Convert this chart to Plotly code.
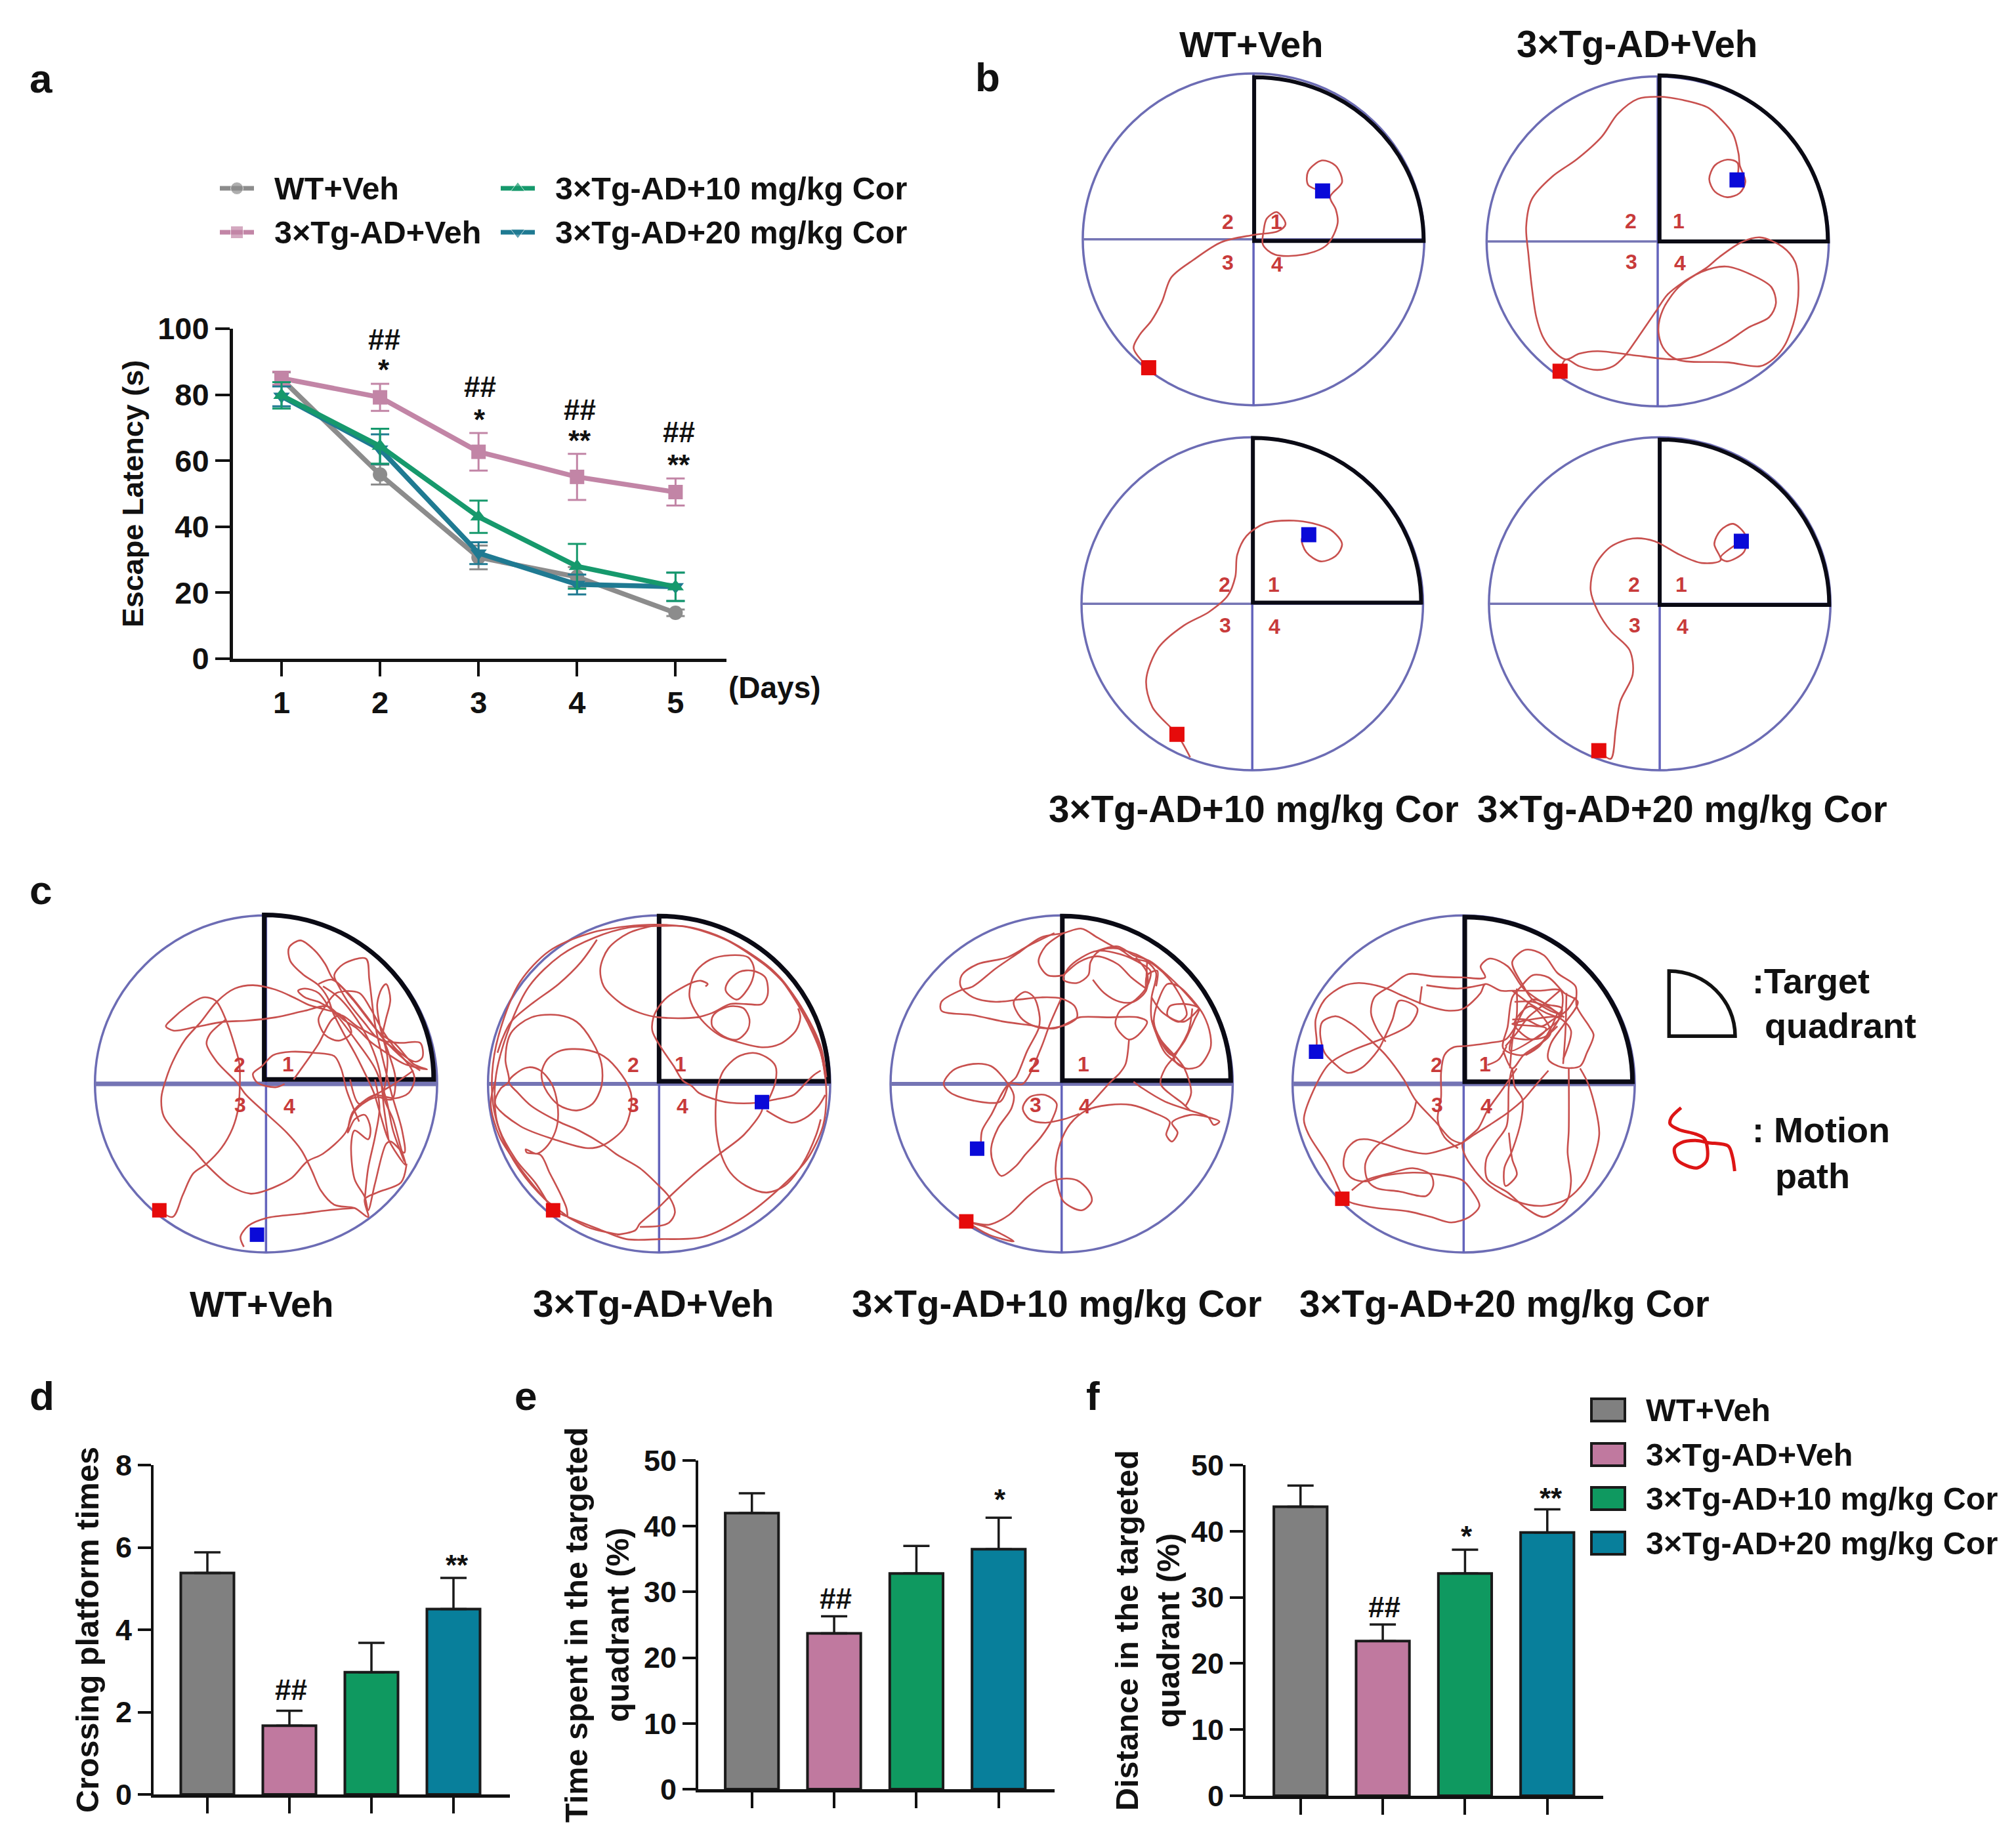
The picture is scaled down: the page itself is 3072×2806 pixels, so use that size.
import plotly.graph_objects as go

W, H = 3072, 2806
SANS = '"Liberation Sans", Arial, sans-serif'

# ---------- data: panel a ----------
DAYS = [1, 2, 3, 4, 5]
WT_VEH = [84.8, 55.8, 30.7, 24.8, 13.9]
WT_VEH_ERR = [2.0, 3.0, 3.6, 3.0, 1.0]
TG_VEH = [85.0, 79.2, 62.7, 55.1, 50.5]
TG_VEH_ERR = [2.0, 4.1, 5.7, 7.0, 4.1]
TG_10 = [79.8, 64.4, 43.0, 28.0, 21.8]
TG_10_ERR = [4.0, 5.3, 4.9, 6.8, 4.3]
TG_20 = [79.5, 63.5, 32.0, 22.5, 21.8]
TG_20_ERR = [3.0, 4.5, 3.3, 3.0, 4.3]

# ---------- data: panels d, e, f ----------
GROUPS = ["WT+Veh", "3×Tg-AD+Veh", "3×Tg-AD+10 mg/kg Cor", "3×Tg-AD+20 mg/kg Cor"]
CROSSING = [5.38, 1.67, 2.97, 4.5]
CROSSING_ERR = [0.5, 0.36, 0.71, 0.76]
TIME_TQ = [42.0, 23.7, 32.8, 36.5]
TIME_TQ_ERR = [3.0, 2.6, 4.2, 4.8]
DIST_TQ = [43.7, 23.4, 33.6, 39.8]
DIST_TQ_ERR = [3.2, 2.5, 3.6, 3.5]

B1_PATH = [(314,676),(290,640),(300,615),(318,590),(335,555),(350,510),(385,478),(430,445),(480,432),(520,425),(532,412),(518,390),(502,402),(497,425),(496,450),(515,468),(560,468),(598,450),(615,410),(612,385),(603,362),(622,335),(612,305),(590,295),(568,315),(568,340),(591,351)]
B3_PATH = [(380,1392),(359,1350),(320,1300),(310,1250),(330,1190),(370,1150),(410,1125),(440,1095),(452,1060),(455,1020),(470,985),(500,962),(545,957),(575,962),(605,975),(622,1000),(612,1022),(588,1032),(565,1015),(558,990),(569,983)]
B4_PATH = [(1031,1380),(1050,1395),(1058,1340),(1065,1290),(1085,1240),(1080,1195),(1050,1160),(1030,1125),(1018,1085),(1025,1040),(1050,1005),(1085,990),(1120,995),(1160,1020),(1195,1035),(1225,1030),(1215,1000),(1225,975),(1245,963),(1265,985),(1262,1015),(1235,1032),(1225,1025),(1258,995)]
B2_PATH = [(355,1165),(380,1118),(440,1145),(520,1160),(590,1145),(640,1105),(700,1030),(780,925),(830,860),(900,810),(1000,755),(1060,710),(1160,650),(1240,632),(1340,670),(1395,730),(1410,830),(1395,950),(1350,1060),(1300,1115),(1240,1145),(1100,1130),(870,1118),(810,1070),(790,1000),(810,920),(880,830),(980,770),(1090,748),(1200,780),(1290,830),(1310,895),(1280,950),(1190,990),(1090,1050),(960,1105),(860,1118),(670,1100),(520,1085),(440,1095),(380,1118),(320,1080),(280,1030),(250,950),(230,830),(215,700),(205,590),(230,480),(320,390),(430,320),(540,230),(610,140),(700,80),(800,72),(900,85),(1010,115),(1065,160),(1120,220),(1145,300),(1150,345),(1175,410),(1150,455),(1095,472),(1040,450),(1015,400),(1040,345),(1095,322),(1140,335),(1138,403)]

C1_PATH = [(316,1360),(375,1390),(420,1290),(465,1195),(525,1150),(590,1080),(640,990),(665,900),(672,800),(670,700),(650,620),(610,500),(565,415),(510,400),(440,440),(370,500),(345,530),(380,550),(470,535),(600,510),(700,505),(830,490),(960,460),(1060,440),(1130,500),(1190,540),(1250,600),(1320,650),(1400,700),(1500,725),(1440,700),(1360,610),(1290,560),(1180,420),(1120,350),(1080,310),(1050,250),(1000,185),(940,143),(890,175),(895,235),(950,295),(1020,345),(1060,400),(1085,470),(1130,560),(1180,650),(1215,720),(1265,830),(1300,950),(1325,1030),(1370,1110),(1405,1155),(1385,1080),(1350,950),(1310,850),(1320,760),(1325,670),(1290,520),(1280,430),(1300,360),(1320,340),(1338,410),(1318,500),(1305,570),(1330,650),(1360,760),(1345,860),(1280,850),(1230,870),(1175,920),(1140,1010),(1040,1105),(970,1140),(900,1215),(790,1270),(720,1285),(630,1250),(530,1160),(470,1090),(390,1010),(335,935),(325,850),(345,770),(375,690),(430,590),(500,510),(570,420),(650,360),(730,345),(830,365),(910,400),(980,435),(1050,455),(1120,480),(1165,560),(1110,595),(1050,570),(1020,500),(1050,440),(1100,380),(1200,380),(1250,450),(1310,560),(1370,640),(1450,690),(1480,670),(1470,605),(1380,605),(1290,590),(1220,510),(1150,420),(1110,350),(1090,300),(1130,250),(1230,225),(1245,320),(1270,520),(1310,700),(1345,840),(1390,1000),(1400,1100),(1340,1050),(1320,1060),(1270,1240),(1240,1360),(1225,1300),(1180,1220),(1165,1060),(1180,1000),(1240,1040),(1250,990),(1225,930),(1180,950),(1150,1010),(1170,920),(1230,860),(1270,840),(1360,855),(1420,830),(1445,770),(1430,720),(1340,620),(1190,530),(1120,480),(1080,500),(1020,610),(980,670),(910,770),None,
 (870,790),(830,805),(750,785),(730,745),(770,710),(820,660),(900,645),(1000,650),(1090,665),(1120,720),(1145,820),(1175,900),(1200,960),None,
 (610,500),(540,565),(525,610),(570,690),(660,785),(700,840),(790,925),(880,1010),(945,1090),(990,1180),(1030,1270),(1090,1335),(1180,1350),(1240,1390),(1225,1310),(1280,1280),(1385,1235),(1410,1150),None,
 (1180,1350),(1060,1360),(950,1375),(790,1395),(710,1430),(675,1480),(690,1525),None,
 (1020,340),(1080,320),(1150,380),(1230,480),(1310,590),(1400,680),(1470,730),None,
 (1060,440),(1100,480),(1190,600),(1270,720),(1320,860),(1350,1000),(1400,1140),None,
 (1040,350),(1110,400),(1190,500),(1250,610),(1290,730),(1310,900),(1330,1040),None,
 (930,370),(960,400),(1020,420),(1060,440),(1020,380),(960,360),(930,370),None,
 (1270,770),(1290,900),(1270,1030),(1240,1170),(1225,1310),None,
 (1160,770),(1200,880),(1270,840),(1340,800),(1440,730)]

C2_PATH = [(316,1360),(380,1390),(280,1310),(170,1180),(90,1030),(50,880),(50,700),(90,520),(170,330),(300,190),(480,110),(640,80),(785,72),(920,85),(1080,140),(1200,215),(1320,310),(1410,440),(1480,580),(1515,720),(1525,850),(1510,980),(1440,1130),(1330,1250),(1160,1390),(980,1480),(790,1490),(640,1490),(530,1450),(380,1390),None,
 (300,1340),(240,1240),(150,1130),(70,970),(60,780),(110,570),(210,350),(350,210),(500,130),(650,85),(790,78),(900,80),(1040,120),(1170,190),(1300,290),(1420,470),(1500,650),(1520,760),None,
 (510,140),(440,240),(340,340),(220,430),(130,510),(90,590),(70,650),None,
 (785,72),(650,110),(560,180),(525,270),(540,350),(620,430),(700,470),(785,490),(950,490),(1020,470),(1100,430),(1170,430),(1240,430),(1265,390),(1255,310),(1200,280),(1140,285),(1090,330),(1080,370),(1130,410),(1190,340),(1205,270),(1180,220),(1100,210),(1010,230),(950,280),(925,340),(920,400),(950,470),(1000,530),(1060,575),(1130,600),(1240,625),(1320,610),(1390,550),(1410,490),(1400,450),None,
 (1020,490),(1020,530),(1070,575),(1130,590),(1175,550),(1185,500),(1160,450),(1100,440),(1040,465),(1020,490),None,
 (990,350),(1000,340),(970,325),(940,330),(880,360),(820,400),(785,440),(760,490),(755,550),(790,620),(850,710),(890,775),(930,800),(960,830),(1050,865),(1100,875),(1220,875),(1300,860),(1380,840),(1430,790),(1470,750),(1500,730),None,
 (1270,860),(1300,780),(1300,710),(1260,670),(1200,650),(1130,670),(1070,730),(1045,800),(1035,900),(1040,1020),(1060,1110),(1100,1190),(1170,1250),(1260,1280),(1340,1250),(1420,1150),(1480,1020),(1500,950),None,
 (1240,872),(1240,910),(1160,1020),(1060,1100),(960,1180),(840,1290),(780,1350),(700,1420),(680,1450),(600,1470),None,
 (1260,910),(1370,965),(1430,945),(1490,890),(1520,840),None,
 (700,1435),(790,1430),(830,1415),(855,1370),(830,1300),(785,1250),(700,1170),(600,1110),(540,1065),(430,1000),(340,960),(220,890),(160,830),(120,780),(170,730),(210,715),(260,730),(310,790),(335,880),(335,970),(310,1040),(270,1090),(240,1105),(195,1085),(200,1100),(260,1110),(300,1190),(350,1290),(375,1350),(380,1390),None,
 (120,780),(105,680),(130,560),(220,490),(340,480),(420,510),(490,600),(530,700),(530,800),(490,880),(420,910),(340,885),(280,810),(265,740),(290,680),(350,640),(450,635),(540,665),(620,750),(660,830),(660,900),(630,990),(540,1065),(470,1080),(320,1040),(170,980),(60,880),(85,810),(120,780),None,
 (380,1390),(480,1440),(610,1470),None,
 (1170,190),(1250,250),(1350,350),(1430,470),(1500,620),(1525,760),None,
 (60,780),(40,880),(80,1030),(170,1170),(280,1310)]

C3_PATH = [(370,1410),(470,1470),(580,1500),(470,1440),(370,1410),(470,1425),(560,1380),(640,1300),(720,1240),(790,1218),(860,1225),(910,1270),(925,1320),(880,1360),(800,1320),(775,1250),(765,1170),(785,1060),(830,970),(900,910),(1000,885),(1100,885),(1200,920),(1270,960),(1255,1020),(1280,1050),(1305,1010),(1280,965),(1360,930),(1440,940),(1490,960),(1465,975),(1440,940),(1360,910),(1250,870),(1150,810),(1110,780),None,
 (1360,910),(1330,880),(1230,790),(1250,720),(1290,670),None,
 (1340,890),(1365,830),(1335,720),(1290,660),(1230,590),(1200,510),(1225,400),(1260,340),(1310,350),(1370,410),(1420,480),(1450,570),(1450,630),(1400,710),(1340,720),(1290,680),(1340,590),(1380,500),(1400,450),(1340,430),(1270,440),(1260,480),(1310,510),(1345,480),(1330,420),(1270,320),(1210,260),(1130,210),(1020,170),(950,130),(880,90),(800,110),(700,130),(600,200),(500,270),(400,350),(340,370),(260,420),(260,460),(400,480),(540,510),(650,525),(760,540),(830,510),(870,490),(1000,490),(1130,490),(1170,510),(1130,570),(1090,590),(1060,570),(1030,520),(1050,460),(1120,410),(1170,350),(1185,280),(1130,240),(1050,205),(950,190),(880,220),(820,270),(800,320),(860,335),(910,300),(920,240),(960,190),(1040,180),(1110,225),(1170,240),(1210,290),(1190,400),(1190,500),(1230,600),(1290,670),None,
 (930,320),(980,380),(1050,420),(1110,420),(1165,370),(1170,290),(1120,220),None,
 (800,300),(870,240),(950,215),(1040,250),(1100,310),(1165,360),None,
 (800,110),(720,170),(690,240),(730,300),(800,300),None,
 (760,110),(640,170),(550,220),(420,250),(350,300),(345,350),(400,400),(500,420),(600,410),(700,400),(790,405),(850,440),(860,490),(820,520),(730,540),(660,525),(610,490),(580,420),(630,375),(670,400),(695,490),(690,540),(640,640),(590,760),(560,790),(520,870),(400,865),(300,830),(270,790),(310,730),(400,700),(480,710),(540,770),(580,840),(570,900),(510,990),(480,1080),(490,1150),(525,1205),(590,1160),(630,1110),(700,1030),(750,950),(770,880),(720,840),(650,850),(620,900),(650,950),(720,965),(800,950),(870,925),None,
 (790,405),(740,520),(700,630),(620,790),(560,790),(480,930),(440,1000),(435,1050),None,
 (1090,590),(1075,700),(1050,740),(1000,790),(930,870),(900,900),None,
 (950,190),(1040,170),(1110,210),(1180,235),(1260,300),(1330,370),(1390,440),None,
 (1170,240),(1165,370),(1170,300),(1215,280),(1210,350),None,
 (1190,400),(1240,470),(1330,510),(1400,450),None,
 (1230,600),(1280,660),(1350,560),(1370,450),None,
 (1190,500),(1250,650),(1340,720)]

C4_PATH = [(248,1308),(300,1330),(400,1350),(540,1365),(640,1390),(730,1415),(810,1390),(855,1340),(820,1270),(780,1225),(680,1200),(560,1190),(430,1205),(350,1230),(290,1215),(255,1165),(265,1090),(310,1045),(360,1040),(430,1060),(530,1090),(620,1105),(700,1085),(770,1060),(830,1020),(900,975),(980,920),(1050,860),(1100,800),(1160,730),None,
 (248,1300),(180,1150),(100,1020),(78,950),(120,820),(190,700),(290,640),(440,580),(550,520),(580,450),(500,415),(470,500),(440,570),(405,640),(330,720),(270,740),(210,695),(170,650),(150,560),(160,510),(220,485),(290,520),(380,600),(440,660),(520,770),(570,860),(660,960),(730,1040),(780,1060),None,
 (290,1270),(350,1225),(470,1190),(560,1170),(640,1200),(650,1250),(620,1295),(500,1275),(400,1260),(360,1225),(350,1150),(390,1080),(480,1010),(550,950),(575,870),None,
 (132,645),(135,600),(130,500),(170,410),(250,350),(320,335),(430,355),(520,395),(630,440),(720,460),(785,450),(860,380),(880,340),(950,370),(1000,370),(1120,370),(1215,370),(1210,470),(1090,410),(1050,350),(1000,240),(1060,185),(1140,210),(1200,290),(1280,350),(1285,440),(1340,530),(1360,570),(1330,650),(1300,710),(1220,715),(1160,680),(1170,610),(1230,520),(1290,420),(1230,380),(1160,310),(1090,300),(1040,350),(1000,400),(980,530),(960,630),(1050,660),(1160,570),(1220,450),(1150,430),(1050,360),(980,260),(900,225),(860,260),(880,310),(780,310),(650,305),(540,295),(460,350),(390,400),(375,470),(400,540),(440,600),None,
 (600,350),(590,430),None,(620,345),(760,360),(880,340),None,
 (1220,490),(1090,410),(990,640),(1100,585),(1210,490),(1000,520),(1150,540),(1090,590),(1010,520),(1080,440),(1170,560),(1050,660),(1000,720),(960,640),None,
 (1250,720),(1250,1000),(1245,1100),(1260,1230),(1240,1320),(1140,1390),(1060,1350),(980,1280),(890,1220),(885,1130),(930,1050),(975,980),(985,800),(1000,720),(1010,800),(1045,860),(1040,950),(1000,1090),(965,1170),(970,1250),(1020,1200),(1000,1130),(985,1010),None,
 (1300,720),(1340,800),(1385,1010),(1360,1130),(1320,1230),(1240,1310),(1130,1340),(1020,1320),(900,1250),(850,1200),(790,1110),(780,1060),(850,990),(890,910),(960,810),(1020,720),None,
 (790,620),(740,625),(700,660),(685,740),(685,850),(670,950),(700,1030),(760,1080),None,
 (790,620),(900,605),(970,590),(1020,520),None,
 (890,705),(940,680),(975,620),None,
 (1000,370),(1080,430),(1150,470),(1220,500),(1260,550),(1225,680),None,
 (1000,500),(1060,500),(1130,530),(1180,500),(1240,460),(1280,400),None,
 (990,580),(1060,590),(1140,580),(1200,530),None,
 (970,620),(1020,560),(1070,490),(1130,440),(1210,370),None,
 (1240,380),(1235,560),(1225,700),None,
 (1020,360),(1020,480),(1000,600),(990,720),None,
 (1060,660),(1120,620),(1170,540),(1200,470),None,
 (1010,420),(1090,420),(1170,450),(1230,490)]

SQUIGGLE = [(185,775),(140,820),(135,850),(175,875),(250,895),(290,915),(305,960),(300,1020),(260,1050),(210,1040),(165,1010),(155,960),(185,935),(250,925),(310,935),(400,950),(420,1000),(430,1065)]

C_GRAY, C_PINK, C_GREEN, C_TEAL = "#808080", "#c0799f", "#0f9960", "#087f9b"
PATH_RED = "#c8504e"

fig = go.Figure()
axis_index = [0]
annotations, shapes = [], []


def px(x):
    return x / W


def py(y):
    return 1 - y / H


def add_axes(rect, xrange, yrange, xopts=None, yopts=None):
    x, y, w, h = rect
    axis_index[0] += 1
    n = axis_index[0]
    suffix = "" if n == 1 else str(n)
    hidden = dict(visible=False, showgrid=False, zeroline=False, fixedrange=True, automargin=False)
    xa = dict(hidden, domain=[px(x), px(x + w)], range=xrange, anchor=f"y{suffix}")
    ya = dict(hidden, domain=[py(y + h), py(y)], range=yrange, anchor=f"x{suffix}")
    xa.update(xopts or {})
    ya.update(yopts or {})
    fig.update_layout({f"xaxis{suffix}": xa, f"yaxis{suffix}": ya})
    return f"x{suffix}", f"y{suffix}"


def note(text, x, y, size, anchor="center", color="#111111", weight=700, family=SANS, angle=0):
    annotations.append(dict(text=text, x=px(x), y=py(y), xref="paper", yref="paper", showarrow=False,
                            xanchor=anchor, yanchor="middle", textangle=angle,
                            font=dict(family=family, size=size, color=color, weight=weight)))


def polyline(pairs, xa, ya, color=PATH_RED, width=2.6, shape="spline"):
    xs = [p[0] if p else None for p in pairs]
    ys = [p[1] if p else None for p in pairs]
    fig.add_trace(go.Scatter(x=xs, y=ys, xaxis=xa, yaxis=ya, mode="lines", hoverinfo="skip", showlegend=False,
                             line=dict(color=color, width=width, shape=shape, smoothing=0.9)))


def quadrant_path(qx, qy, top, right):
    k = 0.5523
    return (f"M {qx} {qy} L {qx} {top} C {qx + k * (right - qx)} {top} {right} {qy - k * (qy - top)} "
            f"{right} {qy} Z")


def arena(xa, ya, centre, radii, quad, start, end, numbers, path, hline, qwidth, msize):
    cx, cy = centre
    rx, ry = radii
    ref = dict(xref=xa, yref=ya, layer="below")
    shapes.append(dict(type="circle", x0=cx - rx, x1=cx + rx, y0=cy - ry, y1=cy + ry,
                       line=dict(color="#6c6cb4", width=3.5), **ref))
    shapes.append(dict(type="line", x0=cx - rx, x1=cx + rx, y0=cy, y1=cy,
                       line=dict(color="#7474b4", width=hline), **ref))
    shapes.append(dict(type="line", x0=cx, x1=cx, y0=cy - ry, y1=cy + ry,
                       line=dict(color="#6464bc", width=3.5), **ref))
    shapes.append(dict(type="path", path=quadrant_path(*quad), line=dict(color="#0a0a14", width=qwidth), **ref))
    polyline(path, xa, ya)
    fig.add_trace(go.Scatter(x=[start[0], end[0]], y=[start[1], end[1]], xaxis=xa, yaxis=ya, mode="markers",
                             hoverinfo="skip", showlegend=False,
                             marker=dict(symbol="square", size=msize, color=["#e60b0b", "#0a0ad8"])))
    for label, (nx, ny) in zip("1234", numbers):
        annotations.append(dict(text=label, x=nx, y=ny, xref=xa, yref=ya, showarrow=False,
                                font=dict(family=SANS, size=32, color="#c83a3a", weight=700)))


# ---------- panel a ----------
ax_style = dict(visible=True, showline=True, linecolor="#111111", linewidth=5, ticks="outside", ticklen=22,
                tickwidth=4, tickcolor="#111111", showgrid=False, zeroline=False, fixedrange=True, automargin=False)
xa, ya = add_axes((355, 501, 752, 503), [0.507, 5.517], [0, 100],
                  dict(ax_style, tickvals=DAYS, tickfont=dict(family=SANS, size=47, weight=700, color="#111111")),
                  dict(ax_style, tickvals=[0, 20, 40, 60, 80, 100],
                       tickfont=dict(family=SANS, size=47, weight=700, color="#111111"),
                       title=dict(text="Escape Latency (s)", standoff=9,
                                  font=dict(family=SANS, size=45, weight=700, color="#111111"))))
SERIES_A = [("WT+Veh", WT_VEH, WT_VEH_ERR, "#8c8c8c", "circle"),
            ("3×Tg-AD+Veh", TG_VEH, TG_VEH_ERR, "#c285a6", "square"),
            ("3×Tg-AD+20 mg/kg Cor", TG_20, TG_20_ERR, "#1f7a92", "triangle-down"),
            ("3×Tg-AD+10 mg/kg Cor", TG_10, TG_10_ERR, "#16996c", "triangle-up")]
for name, values, errs, colour, symbol in SERIES_A:
    fig.add_trace(go.Scatter(x=DAYS, y=values, name=name, xaxis=xa, yaxis=ya, mode="lines+markers", showlegend=False,
                             line=dict(color=colour, width=7.5), marker=dict(symbol=symbol, size=22, color=colour),
                             error_y=dict(type="data", array=errs, color=colour, thickness=3, width=14)))
note("(Days)", 1180, 1048, 46)

# legend of panel a, drawn as keys on a page-sized axis
page_x, page_y = add_axes((0, 0, W, H), [0, W], [H, 0])
LEGEND_A = [("WT+Veh", 335, 287, "#8c8c8c", "circle"), ("3×Tg-AD+Veh", 335, 354, "#c285a6", "square"),
            ("3×Tg-AD+10 mg/kg Cor", 763, 287, "#16996c", "triangle-up"),
            ("3×Tg-AD+20 mg/kg Cor", 763, 354, "#1f7a92", "triangle-down")]
for label, kx, ky, colour, symbol in LEGEND_A:
    fig.add_trace(go.Scatter(x=[kx, kx + 26, kx + 52], y=[ky, ky, ky], xaxis=page_x, yaxis=page_y, mode="lines+markers",
                             hoverinfo="skip", showlegend=False, line=dict(color=colour, width=7),
                             marker=dict(symbol=symbol, size=[0, 19, 0], color=colour)))
    note(label, kx + 81, ky, 48.5, anchor="left")

# ---------- panel b ----------
bx, by = add_axes((1450, 0, 1500, 1300), [0, 1568], [1568, 0])
arena(bx, by, (481, 440), (272, 305), (482, 443, 142, 752), (314, 676), (591, 351),
      [(517, 408), (440, 408), (440, 483), (518, 486)], B1_PATH, 3.5, 6, 23)
arena(bx, by, (479, 1110), (272, 306), (480, 1108, 805, 748), (359, 1350), (569, 983),
      [(513, 1075), (435, 1075), (436, 1150), (514, 1152)], B3_PATH, 3.5, 6, 23)
arena(bx, by, (1128, 1110), (272, 306), (1128, 1112, 808, 1398), (1031, 1380), (1258, 995),
      [(1162, 1075), (1087, 1075), (1088, 1150), (1164, 1152)], B4_PATH, 3.5, 6, 23)
b2x, b2y = add_axes((2255, 100, 540, 620), [0, 1568], [1568, -52.3])
arena(b2x, b2y, (787, 648), (757, 657), (795, 648, -13, 1540), (355, 1165), (1138, 403),
      [(880, 567), (668, 567), (670, 730), (885, 735)], B2_PATH, 3.5, 6, 23)
note("WT+Veh", 1906, 67, 56)
note("3×Tg-AD+Veh", 2494, 67, 56.5)
note("3×Tg-AD+10 mg/kg Cor", 1910, 1233, 56.5)
note("3×Tg-AD+20 mg/kg Cor", 2563, 1233, 56.5)

# ---------- panel c ----------
C_NUMBERS = [[(885, 700), (670, 705), (675, 885), (890, 890)],
             [(880, 700), (670, 705), (672, 885), (888, 890)],
             [(888, 700), (672, 705), (678, 885), (895, 890)],
             [(880, 700), (665, 705), (668, 885), (885, 890)]]
for left, cx, quad, start, end, nums, path, hline in [
    (134, 788, (780, 770, 28, 1530), (316, 1360), (748, 1470), C_NUMBERS[0], C1_PATH, 7),
    (734, 785, (785, 778, 33, 1535), (316, 1360), (1240, 872), C_NUMBERS[1], C2_PATH, 6),
    (1345, 792, (795, 775, 33, 1540), (370, 1410), (418, 1082), C_NUMBERS[2], C3_PATH, 6),
    (1960, 785, (790, 780, 38, 1532), (248, 1308), (132, 645), C_NUMBERS[3], C4_PATH, 7),
]:
    wx, wy = add_axes((left, 1385, 540, 530), [0, 1568], [1568, 0])
    arena(wx, wy, (cx, 790), (757, 760), quad, start, end, nums, path, hline, 7, 22)
note("WT+Veh", 398, 1987, 56)
note("3×Tg-AD+Veh", 995, 1987, 56.5)
note("3×Tg-AD+10 mg/kg Cor", 1610, 1987, 56.5)
note("3×Tg-AD+20 mg/kg Cor", 2292, 1987, 56.5)

# key on the right of panel c
kx, ky = add_axes((2500, 1430, 500, 420), [0, 1500], [1260, 0])
shapes.append(dict(type="path", path=quadrant_path(130, 448, 150, 432), xref=kx, yref=ky,
                   line=dict(color="#111111", width=5.5)))
polyline(SQUIGGLE, kx, ky, color="#dd1515", width=5)
note(":Target", 2668, 1495, 54, anchor="left")
note("quadrant", 2687, 1563, 54, anchor="left")
note(": Motion", 2668, 1722, 54, anchor="left")
note("path", 2703, 1792, 54, anchor="left")

# ---------- panels d, e, f ----------
bar_colours = [C_GRAY, C_PINK, C_GREEN, C_TEAL]
tick_font = dict(family=SANS, size=45, weight=700, color="#111111")
for rect, xr, yr, ticks, vals, errs, title, standoff in [
    ((234, 2233, 543, 502), [-0.656, 3.688], [0, 8], [0, 2, 4, 6, 8], CROSSING, CROSSING_ERR,
     "Crossing platform times", 11),
    ((1064, 2226, 543, 501), [-0.652, 3.68], [0, 50], [0, 10, 20, 30, 40, 50], TIME_TQ, TIME_TQ_ERR,
     "Time spent in the targeted<br>quadrant (%)", 8),
    ((1898, 2233, 545, 504), [-0.668, 3.68], [0, 50], [0, 10, 20, 30, 40, 50], DIST_TQ, DIST_TQ_ERR,
     "Distance in the targeted<br>quadrant (%)", 3),
]:
    dx, dy = add_axes(rect, xr, yr,
                      dict(ax_style, type="category", showticklabels=False, linewidth=5, ticklen=24, tickwidth=3.5),
                      dict(ax_style, tickvals=ticks, tickfont=tick_font, linewidth=4, ticklen=20,
                           title=dict(text=title, standoff=standoff,
                                      font=dict(family=SANS, size=48.5, weight=700, color="#111111"))))
    fig.add_trace(go.Bar(x=GROUPS, y=vals, xaxis=dx, yaxis=dy, width=0.648, showlegend=False,
                         marker=dict(color=bar_colours, line=dict(color="#1a1a1a", width=4)),
                         error_y=dict(type="data", symmetric=False, array=errs, arrayminus=[0, 0, 0, 0],
                                      color="#1a1a1a", thickness=3.5, width=20)))

# legend of panels d-f
for label, colour, row_y in zip(GROUPS, bar_colours, [2149, 2217, 2284, 2352]):
    shapes.append(dict(type="rect", xref="paper", yref="paper", x0=px(2425), x1=px(2476), y0=py(row_y + 17),
                       y1=py(row_y - 17), fillcolor=colour, line=dict(color="#1a1a1a", width=4)))
    note(label, 2506, row_y, 48.5, anchor="left")

# ---------- significance marks ----------
for text, x, y in [("##", 585, 517), ("*", 585, 563), ("##", 731, 590), ("*", 731, 639), ("##", 883, 625),
                   ("**", 883, 672), ("##", 1034, 658), ("**", 1034, 709), ("##", 443, 2575), ("**", 696, 2385),
                   ("##", 1273, 2436), ("*", 1524, 2285), ("##", 2109, 2449), ("*", 2235, 2341), ("**", 2363, 2283)]:
    note(text, x, y, 44)

# ---------- panel letters ----------
for text, x, y in [("a", 62, 120), ("b", 1505, 118), ("c", 62, 1356), ("d", 64, 2127), ("e", 801, 2127), ("f", 1665, 2127)]:
    note(text, x, y, 62)

fig.update_layout(width=W, height=H, margin=dict(l=0, r=0, t=0, b=0, autoexpand=False), paper_bgcolor="white",
                  plot_bgcolor="rgba(0,0,0,0)", showlegend=False, annotations=annotations, shapes=shapes)
fig.write_html("out.html", config=dict(displayModeBar=False), post_script="document.body.style.margin='0';")
